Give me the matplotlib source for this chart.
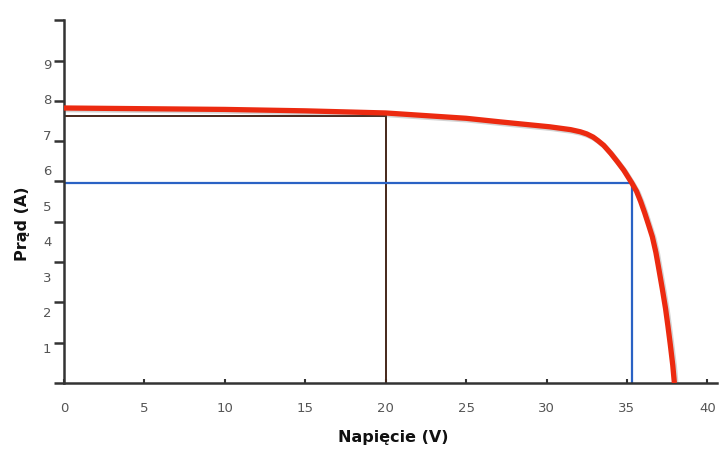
import matplotlib
matplotlib.use("Agg")
import matplotlib.pyplot as plt
import matplotlib.patheffects as pe

# I-V curve
voltage = [0, 5, 10, 15, 20, 25, 27.1, 30.2, 31.5, 32.1, 32.5, 32.9, 33.2, 33.55, 34.0,
           34.4, 34.8, 35.3, 35.6, 35.85, 36.1, 36.35, 36.58, 36.8, 36.95, 37.2, 37.4,
           37.55, 37.7, 37.85, 37.95]
current = [7.75, 7.73, 7.71, 7.67, 7.61, 7.46, 7.36, 7.22, 7.14, 7.08, 7.02, 6.93, 6.83, 6.70, 6.47,
           6.24, 6.00, 5.64, 5.40, 5.12, 4.80, 4.45, 4.12, 3.68, 3.30, 2.65, 2.10,
           1.60, 1.07, 0.50, 0.0]

# reference lines
ref1_v, ref1_i = 20.0, 7.52
ref2_v, ref2_i = 35.3, 5.64

xticks = [0, 5, 10, 15, 20, 25, 30, 35, 40]
yticks = [1, 2, 3, 4, 5, 6, 7, 8, 9]
ytick_marks = [k * 1.136 for k in range(10)]

fig = plt.figure(figsize=(7.2, 4.59), dpi=100)
ax = fig.add_axes([64 / 720, 76 / 459, 653 / 720, 363 / 459])
ax.set_xlim(0, 40.6)
ax.set_ylim(0, 10.23)

ax.plot([0, ref1_v], [ref1_i, ref1_i], color="#45271a", lw=1.4)
ax.plot([ref1_v, ref1_v], [0, ref1_i], color="#45271a", lw=1.4)
ax.plot([0, ref2_v], [ref2_i, ref2_i], color="#2a62c4", lw=1.6)
ax.plot([ref2_v, ref2_v], [0, ref2_i], color="#2a62c4", lw=1.6)

ax.plot(voltage, current, color="#ec2a10", lw=3.8, solid_capstyle="butt", solid_joinstyle="round",
        path_effects=[pe.SimpleLineShadow(offset=(1.2, -1.2), alpha=0.25, shadow_color="#555555"),
                      pe.Normal()], zorder=5)

for s in ["top", "right"]:
    ax.spines[s].set_visible(False)
for s in ["left", "bottom"]:
    ax.spines[s].set_linewidth(1.8)
    ax.spines[s].set_color("#333333")

ax.set_xticks(xticks)
ax.set_xticklabels([str(t) for t in xticks])
ax.tick_params(axis="x", which="major", direction="in", length=3, width=1.5,
               color="#333333", pad=14, labelsize=9.5, labelcolor="#555555")
ax.set_xticks([40], minor=True)
ax.tick_params(axis="x", which="minor", direction="inout", length=10, width=1.5, color="#333333")

ax.set_yticks(yticks)
ax.set_yticklabels([str(t) for t in yticks])
ax.tick_params(axis="y", which="major", length=0, pad=9, labelsize=9.5, labelcolor="#555555")
ax.set_yticks(ytick_marks, minor=True)
ax.tick_params(axis="y", which="minor", direction="out", length=7, width=1.8, color="#333333")

ax.set_xlabel("Napięcie (V)", fontsize=11.5, fontweight="bold", color="#111111", va="center")
ax.xaxis.set_label_coords(0.504, -0.149)
ax.set_ylabel("Prąd (A)", fontsize=11.5, fontweight="bold", color="#111111", va="center")
ax.yaxis.set_label_coords(-0.064, 0.44)

fig.savefig("out.png", dpi=100)
